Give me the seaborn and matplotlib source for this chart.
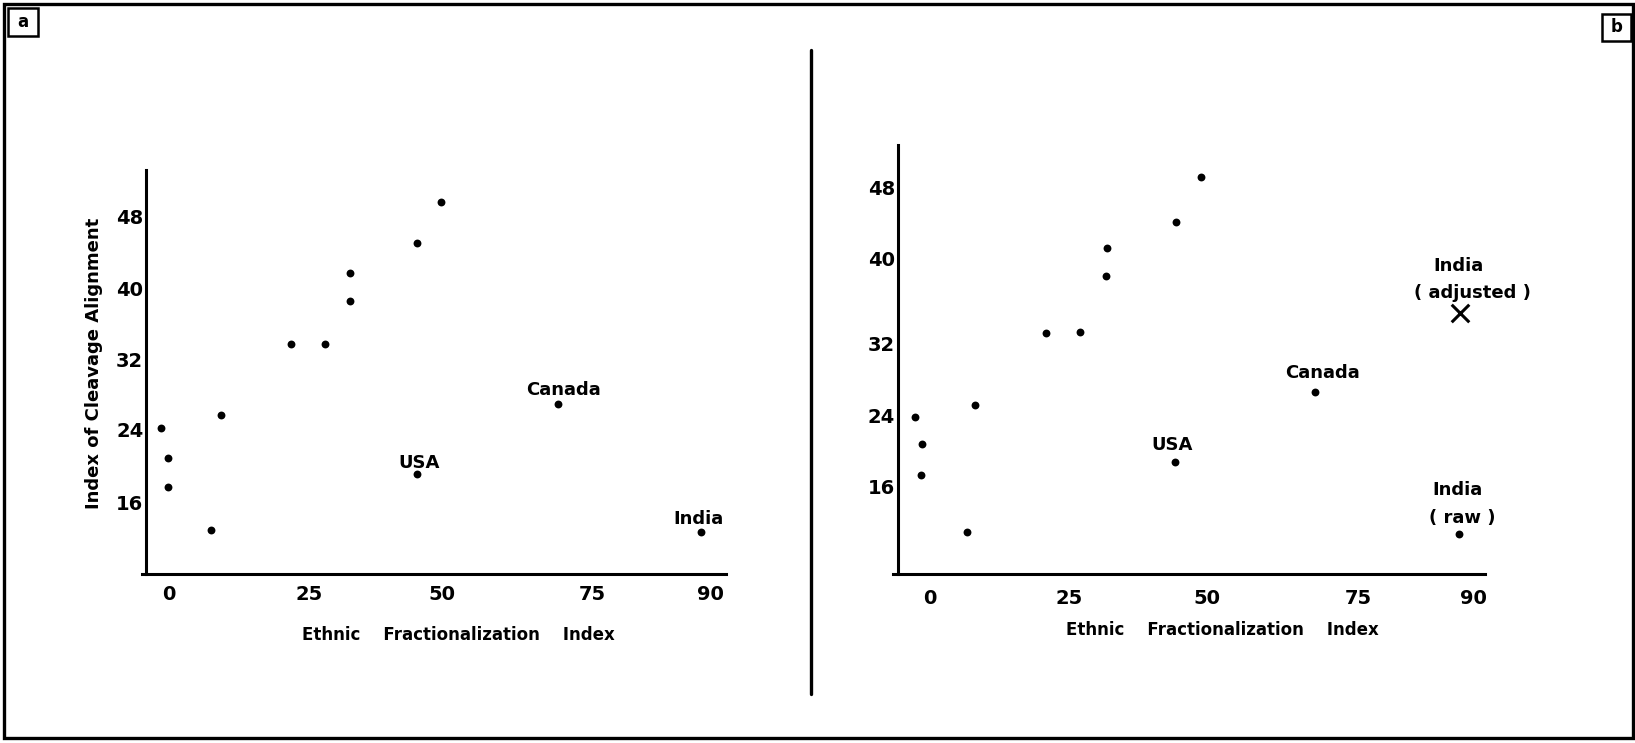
import numpy as np
import pandas as pd
import matplotlib
matplotlib.use("Agg")
import matplotlib.pyplot as plt
import seaborn as sns
from matplotlib.patches import Rectangle
from matplotlib.lines import Line2D

# ---------------- data ----------------
X_TICKS = [0, 25, 50, 75, 90]
Y_TICKS = [16, 24, 32, 40, 48]
X_LABEL = "Ethnic    Fractionalization    Index"
Y_LABEL = "Index of Cleavage Alignment"

# panel a: unlabeled countries
a_x = [-1.5, -0.1, -0.1, 7.6, 9.3, 21.8, 28.0, 32.7, 32.7, 45.4, 49.9]
a_y = [24.1, 20.9, 17.7, 13.0, 25.6, 33.7, 33.7, 38.6, 41.7, 45.0, 49.5]
# panel a: labeled countries
a_lab = ["USA", "Canada", "India"]
a_lab_x = [45.4, 69.2, 88.9]
a_lab_y = [19.1, 26.9, 12.8]

# panel b: unlabeled countries
b_x = [-2.7, -1.5, -1.7, 6.6, 8.0, 20.9, 27.0, 31.7, 31.8, 44.4, 48.8]
b_y = [23.8, 20.8, 17.2, 10.8, 25.2, 33.0, 33.1, 38.3, 41.1, 44.1, 49.2]
# panel b: labeled countries (India raw)
b_lab = ["USA", "Canada", "India\n( raw )"]
b_lab_x = [44.2, 67.9, 88.1]
b_lab_y = [18.7, 26.6, 10.6]
# panel b: India adjusted
b_adj_lab = ["India\n( adjusted )"]
b_adj_x = [88.3]
b_adj_y = [34.8]

# ---------------- layout (pixels of the hand-drawn axes) ----------------
W, H = 1635, 743
A_XPIX = [169, 308.7, 442, 592.7, 710]
A_YPIX = [502.3, 429.3, 359.3, 289, 216]
B_XPIX = [930, 1069.3, 1207.3, 1358.3, 1473.3]
B_YPIX = [486, 415.5, 343.3, 258, 187.3]

sns.set_style("white")
plt.rcParams["font.family"] = ["DejaVu Sans"]
plt.rcParams["font.weight"] = "bold"
plt.rcParams["axes.labelweight"] = "bold"
plt.rcParams["text.color"] = "black"
plt.rcParams["axes.labelcolor"] = "black"
plt.rcParams["xtick.color"] = "black"
plt.rcParams["ytick.color"] = "black"


def pw(xp, fp):
    xp = np.asarray(xp, float)
    fp = np.asarray(fp, float)
    s0 = (fp[1] - fp[0]) / (xp[1] - xp[0])
    s1 = (fp[-1] - fp[-2]) / (xp[-1] - xp[-2])

    def f(x):
        x = np.asarray(x, float)
        y = np.interp(x, xp, fp)
        y = np.where(x < xp[0], fp[0] + (x - xp[0]) * s0, y)
        y = np.where(x > xp[-1], fp[-1] + (x - xp[-1]) * s1, y)
        return y
    return f


def make_panel(fig, xpix, ypix, xlim, ylim):
    fx, ix = pw(X_TICKS, xpix), pw(xpix, X_TICKS)
    yfp = [H - p for p in ypix]
    fy, iy = pw(Y_TICKS, yfp), pw(yfp, Y_TICKS)
    l, r = float(fx(xlim[0])), float(fx(xlim[1]))
    b, t = float(fy(ylim[0])), float(fy(ylim[1]))
    ax = fig.add_axes([l / W, b / H, (r - l) / W, (t - b) / H])
    ax.set_xscale("function", functions=(fx, ix))
    ax.set_yscale("function", functions=(fy, iy))
    ax.patch.set_alpha(0)
    return ax


def style_panel(ax, xlim, ylim, spine_x, ticklen, xpad):
    ax.set_xlim(xlim)
    ax.set_ylim(ylim)
    ax.set_xticks(X_TICKS)
    ax.set_xticklabels([str(v) for v in X_TICKS])
    ax.set_yticks(Y_TICKS)
    ax.set_yticklabels([str(v) for v in Y_TICKS])
    for s in ["top", "right"]:
        ax.spines[s].set_visible(False)
    for s in ["left", "bottom"]:
        ax.spines[s].set_linewidth(2.2)
        ax.spines[s].set_color("black")
    ax.spines["left"].set_position(("data", spine_x))
    ax.tick_params(axis="both", direction="in", length=ticklen, width=1.8,
                   colors="black", labelsize=14)
    ax.tick_params(axis="x", pad=xpad)
    ax.tick_params(axis="y", pad=2)
    ax.grid(False)


fig = plt.figure(figsize=(W / 100, H / 100), dpi=100)
fig.patch.set_facecolor("white")

# ---------------- panel a ----------------
A_XLIM, A_YLIM = (-4.8, 92.05), (8.13, 53.06)
axa = make_panel(fig, A_XPIX, A_YPIX, A_XLIM, A_YLIM)
sns.scatterplot(x=a_x, y=a_y, ax=axa, color="black", s=32, linewidth=0, legend=False)
sns.scatterplot(x=a_lab_x, y=a_lab_y, ax=axa, color="black", s=32, linewidth=0, legend=False)
style_panel(axa, A_XLIM, A_YLIM, -4.1, 11, 8)
a_off = [(2, 11), (6, 14), (-3, 12)]
for t, x, y, o in zip(a_lab, a_lab_x, a_lab_y, a_off):
    axa.annotate(t, (x, y), xytext=o, textcoords="offset pixels",
                 ha="center", va="center", fontsize=13, color="black")
axa.set_xlabel(X_LABEL, fontsize=12, va="center", fontweight="bold", color="black")
axa.xaxis.set_label_coords(458 / W, 1 - 635.5 / H, transform=fig.transFigure)
axa.set_ylabel(Y_LABEL, fontsize=13, va="center", fontweight="bold", color="black")
axa.yaxis.set_label_coords(93.7 / W, 1 - 363.6 / H, transform=fig.transFigure)

# ---------------- panel b ----------------
B_XLIM, B_YLIM = (-6.6, 91.5), (6.0, 52.8)
axb = make_panel(fig, B_XPIX, B_YPIX, B_XLIM, B_YLIM)
sns.scatterplot(x=b_x, y=b_y, ax=axb, color="black", s=32, linewidth=0, legend=False)
sns.scatterplot(x=b_lab_x, y=b_lab_y, ax=axb, color="black", s=32, linewidth=0, legend=False)
sns.scatterplot(x=b_adj_x, y=b_adj_y, ax=axb, color="black", marker="x", s=160,
                linewidth=2.2, legend=False)
style_panel(axb, B_XLIM, B_YLIM, -5.75, 12, 11)
b_off = [[(-3, 17)], [(7, 19)], [(-1, 44), (4, 16)]]
for t, x, y, offs in zip(b_lab, b_lab_x, b_lab_y, b_off):
    for line, o in zip(t.split("\n"), offs):
        axb.annotate(line, (x, y), xytext=o, textcoords="offset pixels",
                     ha="center", va="center", fontsize=13, color="black")
adj_off = [[(-2, 47), (12, 20)]]
for t, x, y, offs in zip(b_adj_lab, b_adj_x, b_adj_y, adj_off):
    for line, o in zip(t.split("\n"), offs):
        axb.annotate(line, (x, y), xytext=o, textcoords="offset pixels",
                     ha="center", va="center", fontsize=13, color="black")
axb.set_xlabel(X_LABEL, fontsize=12, va="center", fontweight="bold", color="black")
axb.xaxis.set_label_coords(1222.7 / W, 1 - 630 / H, transform=fig.transFigure)
axb.set_ylabel("")

# ---------------- frame, divider, panel letters ----------------
def fx_(p):
    return p / W


def fy_(p):
    return 1 - p / H


fig.add_artist(Rectangle((fx_(4), fy_(738)), (1633 - 4) / W, (738 - 4) / H,
                         transform=fig.transFigure, fill=False, lw=2.4, ec="black"))
fig.add_artist(Line2D([fx_(811), fx_(811)], [fy_(50), fy_(694)],
                      transform=fig.transFigure, lw=2.4, color="black"))
fig.add_artist(Rectangle((fx_(8), fy_(36)), 30 / W, 28 / H,
                         transform=fig.transFigure, fill=False, lw=1.8, ec="black"))
fig.text(fx_(23), fy_(22), "a", ha="center", va="center", fontsize=12, color="black")
fig.add_artist(Rectangle((fx_(1602), fy_(41)), 29 / W, 27 / H,
                         transform=fig.transFigure, fill=False, lw=1.8, ec="black"))
fig.text(fx_(1616.5), fy_(27.5), "b", ha="center", va="center", fontsize=12, color="black")

fig.savefig("out.png", dpi=100, facecolor="white")
